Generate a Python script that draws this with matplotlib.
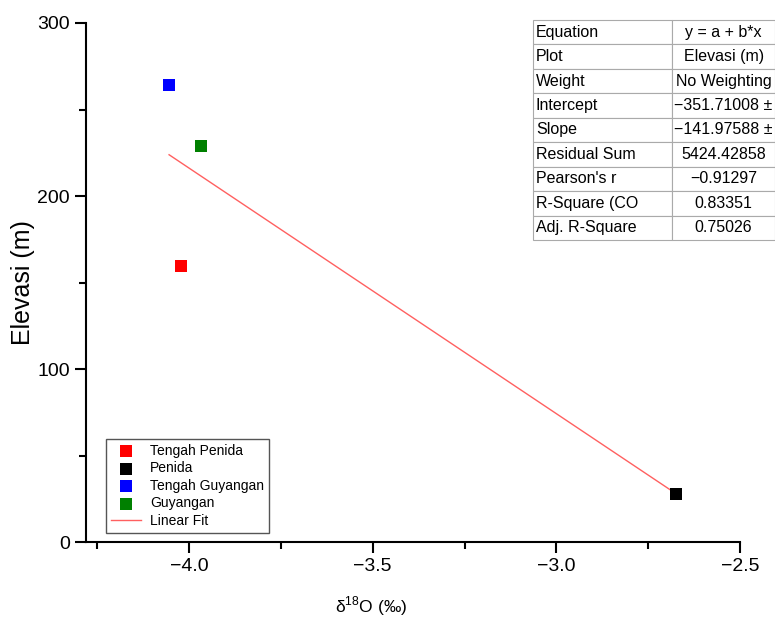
import matplotlib
matplotlib.use("Agg")
import matplotlib.pyplot as plt
from matplotlib.ticker import MultipleLocator
import numpy as np

plt.rcParams['font.family'] = ['Liberation Sans', 'DejaVu Sans']
plt.rcParams['mathtext.fontset'] = 'custom'
plt.rcParams['mathtext.rm'] = 'Liberation Sans'

groups = ["Tengah Penida", "Penida", "Tengah Guyangan", "Guyangan"]
colors = ["#ff0000", "#000000", "#0000ff", "#008000"]
d18o = [-4.022, -2.674, -4.054, -3.967]
elev = [159.8, 27.8, 264.0, 228.7]

intercept = -351.71008
slope = -141.97588

table_labels = ["Equation", "Plot", "Weight", "Intercept", "Slope",
                "Residual Sum", "Pearson's r", "R-Square (CO", "Adj. R-Square"]
table_values = ["y = a + b*x", "Elevasi (m)", "No Weighting", "\u2212351.71008 \u00b1",
                "\u2212141.97588 \u00b1", "5424.42858", "\u22120.91297", "0.83351", "0.75026"]

fig = plt.figure(figsize=(7.75, 6.21), dpi=100)
ax = fig.add_axes([0.111, 0.127, 0.844, 0.836])

for g, c, x, y in zip(groups, colors, d18o, elev):
    ax.scatter([x], [y], marker='s', s=75, color=c, label=g, zorder=3, linewidths=0)

xf = np.array([min(d18o), max(d18o)])
ax.plot(xf, intercept + slope * xf, color='#ff6060', lw=1, label='Linear Fit', zorder=2)

ax.set_xlim(-4.28, -2.5)
ax.set_ylim(0, 300)
ax.xaxis.set_major_locator(MultipleLocator(0.5))
ax.xaxis.set_minor_locator(MultipleLocator(0.25))
ax.yaxis.set_major_locator(MultipleLocator(100))
ax.yaxis.set_minor_locator(MultipleLocator(50))
ax.xaxis.set_major_formatter(matplotlib.ticker.FuncFormatter(lambda v, p: f"{v:.1f}".replace('-', '\u2212')))
ax.spines['top'].set_visible(False)
ax.spines['right'].set_visible(False)
ax.spines['left'].set_linewidth(1.5)
ax.spines['bottom'].set_linewidth(1.5)
ax.tick_params(which='major', direction='out', length=8, width=1.5, labelsize=14)
ax.tick_params(which='minor', direction='out', length=5, width=1.5)
ax.set_ylabel("Elevasi (m)", fontsize=18, labelpad=2)
ax.set_xlabel("\u03b4$^{18}$O (\u2030)", fontsize=12.5)
ax.xaxis.set_label_coords(0.436, -0.1)

leg = ax.legend(loc='lower left', bbox_to_anchor=(0.02, 0.005), fontsize=10,
                frameon=True, fancybox=False, edgecolor='#555555', framealpha=1,
                handlelength=2.2, handletextpad=0.6, borderpad=0.35, labelspacing=0.25)
leg.get_frame().set_linewidth(1.0)

tax = fig.add_axes([533/775, 1 - 240/621, 242/775, 220/621])
tax.axis('off')
cell_text = [[a, b] for a, b in zip(table_labels, table_values)]
tbl = tax.table(cellText=cell_text, cellLoc='left', bbox=[0, 0, 1, 1], colWidths=[0.575, 0.425])
tbl.auto_set_font_size(False)
tbl.set_fontsize(11.5)
for (r, c), cell in tbl.get_celld().items():
    cell.set_edgecolor('#aaaaaa')
    cell.set_linewidth(0.8)
    if c == 1:
        cell.get_text().set_horizontalalignment('center')
        cell._loc = 'center'
    else:
        cell.PAD = 0.02

fig.savefig("out.png", dpi=100)
